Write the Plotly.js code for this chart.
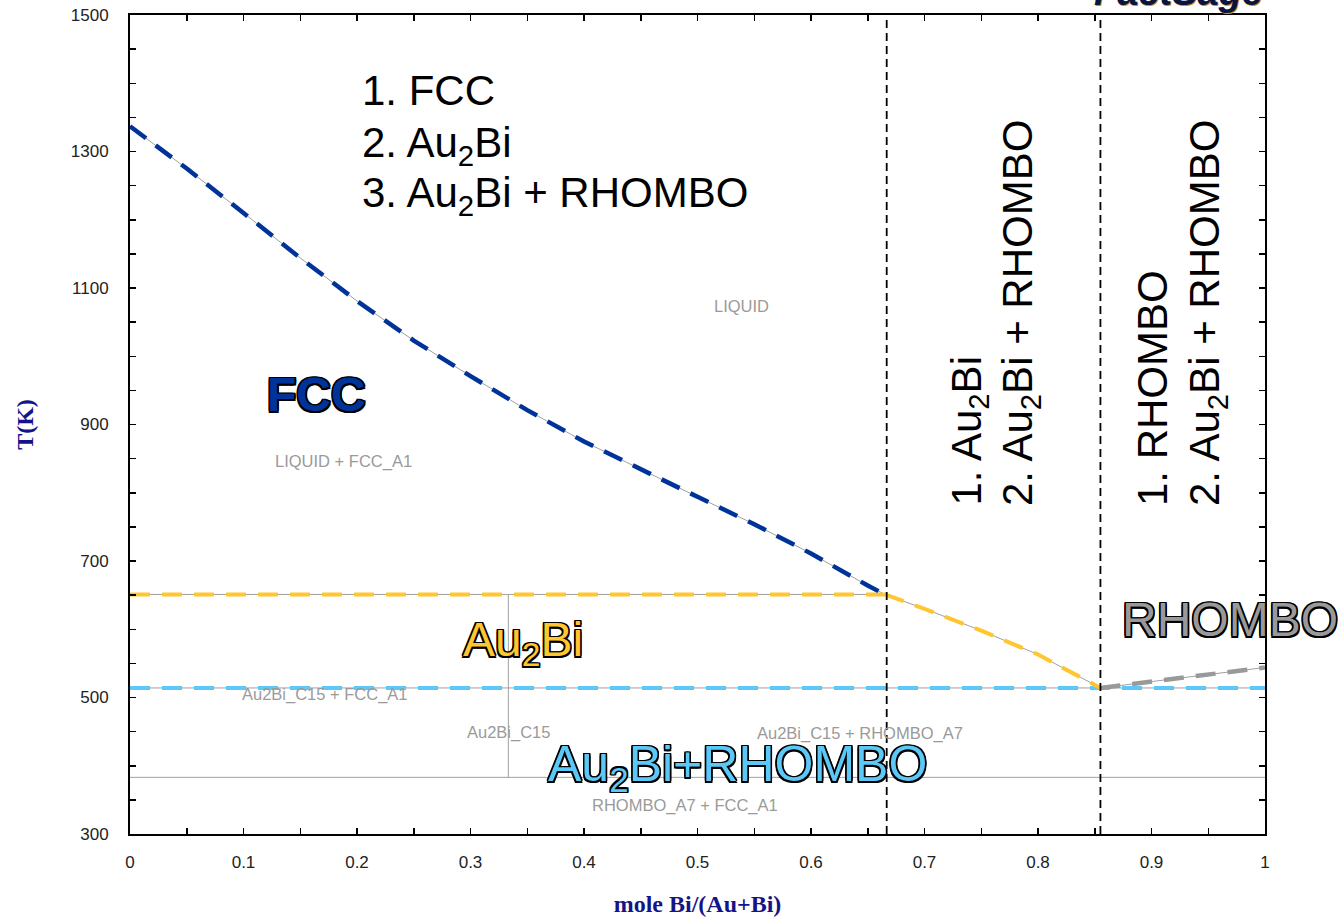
<!DOCTYPE html>
<html>
<head>
<meta charset="utf-8">
<script src="https://cdn.plot.ly/plotly-3.0.1.min.js"></script>
<style>html,body{margin:0;padding:0;background:#fff;}#chart{width:1342px;height:920px;}</style>
</head>
<body>
<div id="chart"></div>
<script>
// ---- data ----
const fccLiquidusX = [0, 0.05, 0.10, 0.15, 0.20, 0.25, 0.30, 0.35, 0.40, 0.45, 0.50, 0.55, 0.60, 0.65, 0.665];
const fccLiquidusT = [1337, 1275, 1210, 1144, 1081, 1023, 971, 921, 875, 834, 794, 754, 711, 664, 651];
const au2biLiquidusX = [0.665, 0.70, 0.75, 0.80, 0.855];
const au2biLiquidusT = [651, 630, 598, 563, 514];
const rhomboLiquidusX = [0.855, 0.93, 1.0];
const rhomboLiquidusT = [514, 529, 544];
const peritecticT = 651;      // Au2Bi formation
const eutecticT = 514;        // Au2Bi + RHOMBO
const decompositionT = 383;   // lower Au2Bi limit
const au2biX = 1 / 3;
const peritecticEndX = 0.665;
const markerX = [0.6667, 0.855];
const xRange = [0, 1];
const tRange = [300, 1500];
const xTicks = [0, 0.1, 0.2, 0.3, 0.4, 0.5, 0.6, 0.7, 0.8, 0.9, 1];
const xTickText = ["0", "0.1", "0.2", "0.3", "0.4", "0.5", "0.6", "0.7", "0.8", "0.9", "1"];
const tTicks = [300, 500, 700, 900, 1100, 1300, 1500];

// ---- styles ----
const thinGray = {color: '#a0a0a0', width: 1};
const DASH = '20px,12px';
function thin(x, y) {
  return {x: x, y: y, mode: 'lines', line: thinGray, hoverinfo: 'skip', showlegend: false};
}
function dashed(x, y, color, w) {
  return {x: x, y: y, mode: 'lines', line: {color: color, width: w, dash: DASH}, hoverinfo: 'skip', showlegend: false};
}

const traces = [
  thin(fccLiquidusX, fccLiquidusT),
  thin(au2biLiquidusX, au2biLiquidusT),
  thin(rhomboLiquidusX, rhomboLiquidusT),
  thin([xRange[0], peritecticEndX], [peritecticT, peritecticT]),
  thin([xRange[0], xRange[1]], [eutecticT, eutecticT]),
  thin([xRange[0], xRange[1]], [decompositionT, decompositionT]),
  thin([au2biX, au2biX], [decompositionT, peritecticT]),
  dashed([xRange[0], peritecticEndX], [peritecticT, peritecticT], '#FFC62E', 4),
  dashed([xRange[0], xRange[1]], [eutecticT, eutecticT], '#5CC8F7', 4),
  dashed(fccLiquidusX, fccLiquidusT, '#003399', 4.5),
  dashed(au2biLiquidusX, au2biLiquidusT, '#FFC62E', 4),
  dashed(rhomboLiquidusX, rhomboLiquidusT, '#999999', 4.5),
  {x: [markerX[0], markerX[0]], y: tRange, mode: 'lines', line: {color: '#000', width: 1.8, dash: '8px,5px'}, hoverinfo: 'skip', showlegend: false},
  {x: [markerX[1], markerX[1]], y: tRange, mode: 'lines', line: {color: '#000', width: 1.8, dash: '8px,5px'}, hoverinfo: 'skip', showlegend: false}
];

function outline(c, w) {
  const a = [];
  for (const [dx, dy] of [[w,0],[-w,0],[0,w],[0,-w],[w,w],[-w,-w],[w,-w],[-w,w]]) a.push(dx+'px '+dy+'px 0 '+c);
  return a.join(', ');
}
const SANS = 'Liberation Sans, Arial, sans-serif';
function small(text, x, y) {
  return {text: text, x: x, y: y, xref: 'x', yref: 'y', showarrow: false,
    font: {family: SANS, size: 16.5, color: '#9a9a9a'}};
}
function big(text, x, y, color, bold, size) {
  return {text: bold ? '<b>' + text + '</b>' : text, x: x, y: y, xref: 'x', yref: 'y', showarrow: false,
    font: {family: SANS, size: size, color: color, shadow: outline('#000', 1.5)}};
}
// list line in paper pixels -> use paper coords
const PH = 920 - 15 - 86, PW = 1342 - 130 - 77;
function py(pix) { return 1 - (pix - 15) / PH; }
function px(pix) { return (pix - 130) / PW; }
function listLine(text, xPix, yPix) {
  return {text: text, x: px(xPix), y: py(yPix), xref: 'paper', yref: 'paper', xanchor: 'left', yanchor: 'middle',
    showarrow: false, font: {family: SANS, size: 42, color: '#000'}};
}
function vLine(text, xPix, yPix) {
  return {text: text, x: px(xPix), y: py(yPix), xref: 'paper', yref: 'paper', xanchor: 'center', yanchor: 'bottom',
    textangle: -90, showarrow: false, font: {family: SANS, size: 42, color: '#000'}};
}

const annotations = [
  listLine('1. FCC', 360, 90),
  listLine('2. Au<sub>2</sub>Bi', 360, 145),
  listLine('3. Au<sub>2</sub>Bi + RHOMBO', 360, 195),
  vLine('1. Au<sub>2</sub>Bi', 969, 508),
  vLine('2. Au<sub>2</sub>Bi + RHOMBO', 1020, 508),
  vLine('1. RHOMBO', 1152, 508),
  vLine('2. Au<sub>2</sub>Bi + RHOMBO', 1207, 508),
  big('FCC', 0.1639, 944, '#003399', true, 48),
  big('Au<sub>2</sub>Bi', 0.346, 580, '#FFC62E', false, 48),
  big('Au<sub>2</sub>Bi+RHOMBO', 0.5348, 397, '#5CC8F7', false, 50),
  big('RHOMBO', 0.969, 614, '#999999', false, 48),
  small('LIQUID', 0.539, 1074),
  small('LIQUID + FCC_A1', 0.1877, 846),
  small('Au2Bi_C15 + FCC_A1', 0.1718, 504),
  small('Au2Bi_C15', au2biX, 449),
  small('Au2Bi_C15 + RHOMBO_A7', 0.643, 447),
  small('RHOMBO_A7 + FCC_A1', 0.489, 342),
  {text: '<b><i>FactSage</i></b>', x: 1, y: 1.0, xref: 'paper', yref: 'paper', xanchor: 'right', yanchor: 'bottom',
   showarrow: false, font: {family: SANS, size: 38, color: '#0a1440', shadow: '1px 1px 0 #d98a1c'}}
];

const layout = {
  width: 1342, height: 920,
  margin: {l: 130, r: 77, t: 15, b: 86},
  paper_bgcolor: '#fff', plot_bgcolor: '#fff',
  showlegend: false,
  xaxis: {
    range: xRange, tickmode: 'array', tickvals: xTicks, ticktext: xTickText,
    ticks: 'inside', ticklen: 6, tickwidth: 1.5, tickcolor: '#000',
    minor: {dtick: 0.05, ticks: 'inside', ticklen: 6, tickwidth: 1.5, tickcolor: '#000'},
    showline: true, linecolor: '#000', linewidth: 2, mirror: 'allticks',
    showgrid: false, zeroline: false, ticklabelstandoff: 12,
    tickfont: {family: SANS, size: 17, color: '#222'},
    title: {text: 'mole Bi/(Au+Bi)', standoff: 24, font: {family: 'Liberation Serif, Times New Roman, serif', size: 24, color: '#14148a', weight: 'bold'}}
  },
  yaxis: {
    range: tRange, tickmode: 'array', tickvals: tTicks,
    ticks: 'inside', ticklen: 6, tickwidth: 1.5, tickcolor: '#000',
    minor: {dtick: 50, ticks: 'inside', ticklen: 6, tickwidth: 1.5, tickcolor: '#000'},
    showline: true, linecolor: '#000', linewidth: 2, mirror: 'allticks',
    showgrid: false, zeroline: false, ticklabelstandoff: 16,
    tickfont: {family: SANS, size: 17, color: '#222'},
    title: {text: 'T(K)', standoff: 30, font: {family: 'Liberation Serif, Times New Roman, serif', size: 24, color: '#14148a', weight: 'bold'}}
  },
  annotations: annotations
};

Plotly.newPlot('chart', traces, layout, {staticPlot: true, displayModeBar: false});
</script>
</body>
</html>
